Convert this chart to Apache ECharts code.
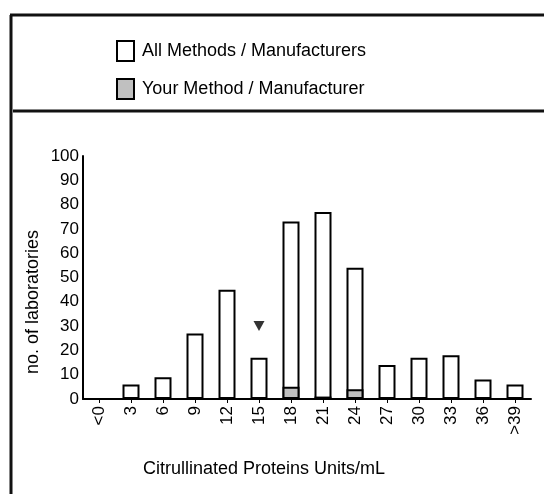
<!DOCTYPE html>
<html>
<head>
<meta charset="utf-8">
<script src="https://cdn.jsdelivr.net/npm/echarts@6/dist/echarts.min.js"></script>
<style>
html,body{margin:0;padding:0;background:#fff;}
#chart{width:544px;height:494px;}
</style>
</head>
<body>
<div id="chart"></div>
<script>
var categories = ['<0','3','6','9','12','15','18','21','24','27','30','33','36','>39'];
var allMethods = [0, 6, 9, 27, 45, 17, 73, 77, 54, 14, 17, 18, 8, 6];
var yourMethod = [0, 0, 0, 0, 0, 0.4, 5, 1, 4, 0, 0, 0, 0, 0];
var markerCategory = '15';
var markerValue = 30;
var yTicks = {min: 0, max: 100, interval: 10};

var chart = echarts.init(document.getElementById('chart'), null, {renderer: 'canvas'});
var font = 'Liberation Sans, Arial, sans-serif';
chart.setOption({
  animation: false,
  backgroundColor: '#fff',
  textStyle: {fontFamily: font},
  grid: {left: 83, right: 13, top: 156, bottom: 95, containLabel: false},
  legend: {
    orient: 'vertical',
    left: 111, top: 35,
    icon: 'rect',
    itemWidth: 17, itemHeight: 20,
    itemGap: 16,
    textStyle: {fontSize: 18, color: '#000', fontFamily: font, padding: [0,0,0,3]},
    data: ['All Methods / Manufacturers', 'Your Method / Manufacturer']
  },
  xAxis: {
    type: 'category',
    data: categories,
    axisLine: {lineStyle: {color: '#000', width: 2}},
    axisTick: {show: true, alignWithLabel: true, length: 4, lineStyle: {color: '#000', width: 1}},
    axisLabel: {rotate: 90, fontSize: 17, color: '#000', margin: 7, fontFamily: font, interval: 0}
  },
  yAxis: {
    type: 'value',
    min: yTicks.min, max: yTicks.max, interval: yTicks.interval,
    splitLine: {show: false},
    axisLine: {show: true, lineStyle: {color: '#000', width: 2}},
    axisTick: {show: false},
    axisLabel: {fontSize: 17, color: '#000', margin: 4, fontFamily: font}
  },
  series: [
    {
      name: 'All Methods / Manufacturers',
      type: 'bar',
      data: allMethods,
      barWidth: 17,
      barGap: '-100%',
      itemStyle: {color: '#fff', borderColor: '#000', borderWidth: 2}
    },
    {
      name: 'Your Method / Manufacturer',
      type: 'bar',
      data: yourMethod,
      barWidth: 17,
      barGap: '-100%',
      itemStyle: {color: '#c0c0c0', borderColor: '#000', borderWidth: 2}
    },
    {
      name: 'marker',
      type: 'scatter',
      data: [[markerCategory, markerValue]],
      symbol: 'triangle',
      symbolRotate: 180,
      symbolSize: [11, 10],
      itemStyle: {color: '#000'},
      z: 5
    }
  ],
  graphic: [
    {type: 'line', shape: {x1: 11, y1: 15, x2: 11, y2: 494}, style: {stroke: '#111', lineWidth: 3}},
    {type: 'line', shape: {x1: 10, y1: 15, x2: 544, y2: 15}, style: {stroke: '#111', lineWidth: 3}},
    {type: 'line', shape: {x1: 13, y1: 111, x2: 544, y2: 111}, style: {stroke: '#111', lineWidth: 3}},
    {type: 'text', x: 33, y: 302, rotation: Math.PI/2, style: {text: 'no. of laboratories', font: '18px ' + font, fill: '#000', align: 'center', verticalAlign: 'middle'}},
    {type: 'text', x: 264, y: 469, style: {text: 'Citrullinated Proteins Units/mL', font: '18px ' + font, fill: '#000', align: 'center', verticalAlign: 'middle'}}
  ]
});
</script>
</body>
</html>
